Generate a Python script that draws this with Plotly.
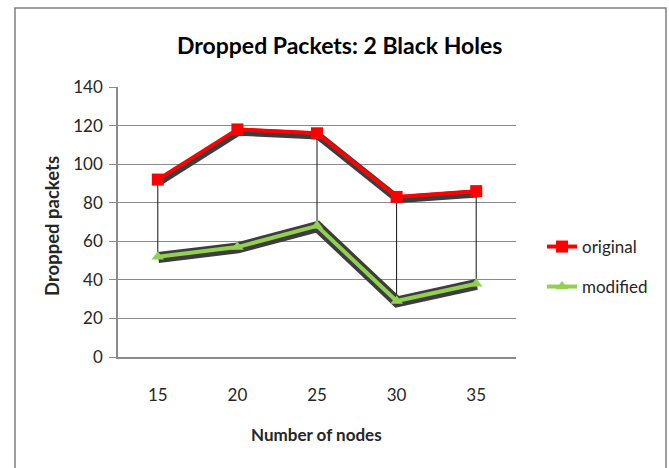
import plotly.graph_objects as go

# Data
nodes = [15, 20, 25, 30, 35]
original = [92, 118, 116, 83, 86]
modified = [52, 57, 68, 29, 38]
drop_line_nodes = [15, 25, 30, 35]
y_ticks = [0, 20, 40, 60, 80, 100, 120, 140]

W, H = 669, 468
L, R, T, B = 118, 153, 87, 111
PW, PH = W - L - R, H - T - B


def px_x(px):
    return (px - L) / PW


def px_y(py):
    return (H - B - py) / PH


FONT = "Lato"
TEXT = "#262626"
GRID = "#8a8a8a"
SHADOW = "#3d3d3d"

fig = go.Figure()

# high-low lines between the two series
dx, dy = [], []
for n in drop_line_nodes:
    i = nodes.index(n)
    dx += [n, n, None]
    dy += [original[i], modified[i], None]
fig.add_trace(go.Scatter(x=dx, y=dy, mode="lines", line=dict(color="#111111", width=1),
                         showlegend=False, hoverinfo="skip"))

# modified series: shadow, then line
fig.add_trace(go.Scatter(x=[n + 0.03 for n in nodes], y=[v - 0.4 for v in modified], mode="lines",
                         line=dict(color=SHADOW, width=11), showlegend=False, hoverinfo="skip"))
fig.add_trace(go.Scatter(x=nodes, y=modified, mode="lines+markers", name="modified",
                         line=dict(color="#92d050", width=4),
                         marker=dict(symbol="triangle-up", size=11, color="#92d050"),
                         legend="legend2"))

# original series: shadow, then line
fig.add_trace(go.Scatter(x=[n + 0.08 for n in nodes], y=[v - 1.2 for v in original], mode="lines",
                         line=dict(color=SHADOW, width=8), showlegend=False, hoverinfo="skip"))
fig.add_trace(go.Scatter(x=nodes, y=original, mode="lines+markers", name="original",
                         line=dict(color="#ff0000", width=4),
                         marker=dict(symbol="square", size=12, color="#ff0000"),
                         legend="legend"))

fig.update_layout(
    width=W, height=H,
    margin=dict(l=L, r=R, t=T, b=B, autoexpand=False),
    paper_bgcolor="white", plot_bgcolor="white",
    font=dict(family=FONT, size=17, color=TEXT),
    xaxis=dict(range=[12.5, 37.5], tickvals=nodes, ticktext=[str(n) for n in nodes],
               showgrid=False, zeroline=False, showline=True, linecolor=GRID, linewidth=1.5,
               ticks="", ticklabelstandoff=22, tickfont=dict(size=17, color=TEXT)),
    yaxis=dict(range=[0, 140], tickvals=y_ticks, showgrid=True, gridcolor=GRID, gridwidth=1,
               zeroline=False, showline=True, linecolor=GRID, linewidth=1.5,
               ticks="outside", ticklen=7, tickcolor=GRID, tickwidth=1,
               ticklabelstandoff=3, tickfont=dict(size=17, color=TEXT)),
    legend=dict(x=px_x(542), y=px_y(247), xanchor="left", yanchor="middle",
                bgcolor="rgba(0,0,0,0)", font=dict(size=17, color=TEXT)),
    legend2=dict(x=px_x(542), y=px_y(287), xanchor="left", yanchor="middle",
                 bgcolor="rgba(0,0,0,0)", font=dict(size=17, color=TEXT)),
    shapes=[dict(type="rect", xref="paper", yref="paper",
                 x0=px_x(15), x1=px_x(666), y0=px_y(480), y1=px_y(8),
                 line=dict(color="#7f7f7f", width=1.5), fillcolor="rgba(0,0,0,0)", layer="below")],
    annotations=[
        dict(text="<b>Dropped Packets: 2 Black Holes</b>", xref="paper", yref="paper",
             x=px_x(339), y=px_y(45), xanchor="center", yanchor="middle", showarrow=False,
             font=dict(size=23, color="#000000")),
        dict(text="<b>Number of nodes</b>", xref="paper", yref="paper",
             x=px_x(316), y=px_y(435), xanchor="center", yanchor="middle", showarrow=False,
             font=dict(size=17, color=TEXT)),
        dict(text="<b>Dropped packets</b>", xref="paper", yref="paper", textangle=-90,
             x=px_x(52), y=px_y(226), xanchor="center", yanchor="middle", showarrow=False,
             font=dict(size=18.5, color=TEXT)),
    ],
)

fig.write_html("out.html")
